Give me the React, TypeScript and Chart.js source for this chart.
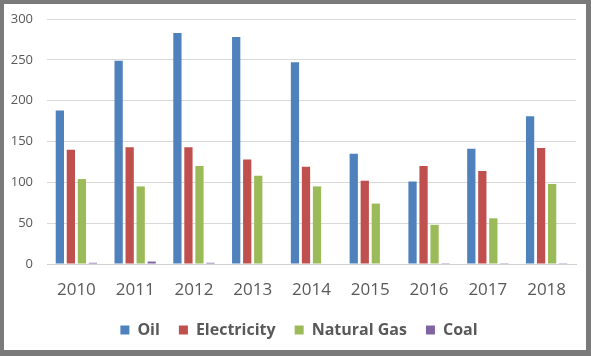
import React, { useEffect, useRef } from "react";
import { Chart, registerables } from "chart.js";

Chart.register(...registerables);

const years = ["2010", "2011", "2012", "2013", "2014", "2015", "2016", "2017", "2018"];
const oil = [188, 249, 283, 278, 247, 135, 101, 141, 181];
const electricity = [140, 143, 143, 128, 119, 102, 120, 114, 142];
const naturalGas = [104, 95, 120, 108, 95, 74, 48, 56, 98];
const coal = [1.5, 3, 1.5, 0, 0, 0, 1, 1, 1];
const yMin = 0;
const yMax = 300;
const yStep = 50;

const TEXT = "#595959";
const FONT = "'Open Sans', 'DejaVu Sans', sans-serif";

const legendShift = {
  id: "legendShift",
  afterLayout(chart: any) {
    const lg = chart.legend;
    if (lg) {
      lg.left += 9;
      lg.right += 9;
    }
  },
};

export default function App() {
  const ref = useRef<HTMLCanvasElement | null>(null);

  useEffect(() => {
    document.body.style.margin = "0";
    const canvas = ref.current;
    if (!canvas) return;
    const chart = new Chart(canvas, {
      type: "bar",
      data: {
        labels: years,
        datasets: [
          { label: "Oil", data: oil, backgroundColor: "#4F81BD" },
          { label: "Electricity", data: electricity, backgroundColor: "#C0504D" },
          { label: "Natural Gas", data: naturalGas, backgroundColor: "#9BBB59" },
          { label: "Coal", data: coal, backgroundColor: "#8064A2" },
        ],
      },
      options: {
        responsive: false,
        animation: false,
        events: [],
        datasets: {
          bar: { categoryPercentage: 0.75, barPercentage: 0.75 },
        },
        layout: { padding: { top: 15, left: 0, right: 10, bottom: 2 } },
        scales: {
          x: {
            grid: { display: false, drawTicks: false },
            border: { display: true, color: "#d0d0d0", width: 1 },
            ticks: { color: TEXT, font: { family: FONT, size: 17 }, padding: 16, maxRotation: 0 },
            afterFit: (s: any) => { s.height = 39; },
          },
          y: {
            min: yMin,
            max: yMax,
            grid: { color: "#d9d9d9", drawTicks: false },
            border: { display: false },
            ticks: { stepSize: yStep, color: TEXT, font: { family: FONT, size: 13 }, padding: 14 },
            afterFit: (s: any) => {
              s.width = 43;
              s.paddingTop = 0;
              s.paddingBottom = 0;
            },
          },
        },
        plugins: {
          tooltip: { enabled: false },
          legend: {
            position: "bottom",
            labels: {
              color: TEXT,
              font: { family: FONT, size: 16, weight: "bold" },
              boxWidth: 9,
              boxHeight: 9,
              padding: 19,
            },
          },
        },
      },
      plugins: [legendShift],
    });
    return () => chart.destroy();
  }, []);

  return (
    <div
      style={{
        width: 591,
        height: 356,
        boxSizing: "border-box",
        borderStyle: "solid",
        borderColor: "#7a7a7a",
        borderWidth: "4px 5px 6px 4px",
        background: "#fff",
      }}
    >
      <canvas ref={ref} width={582} height={346} style={{ display: "block" }} />
    </div>
  );
}
